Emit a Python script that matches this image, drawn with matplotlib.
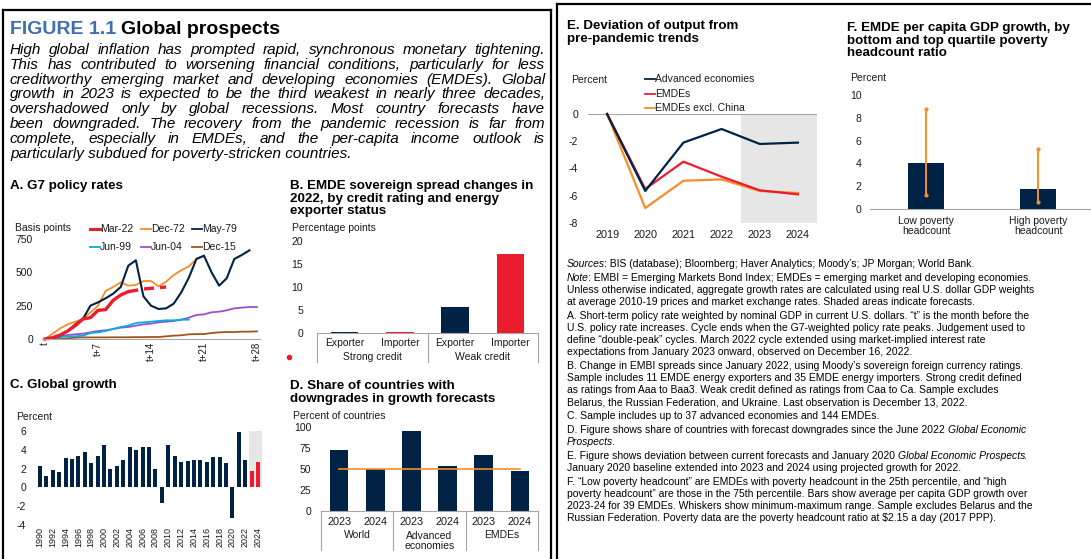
import matplotlib
matplotlib.use("Agg")
import matplotlib.pyplot as plt
from matplotlib.lines import Line2D
from matplotlib.transforms import ScaledTranslation

W, H = 1091, 559
plt.rcParams['font.family'] = ['Liberation Sans', 'DejaVu Sans']
plt.rcParams['axes.unicode_minus'] = False

NAVY = '#002345'
RED = '#EB1C2D'
ORANGE = '#F78D28'
CYAN = '#00ADE4'
PURPLE = '#9B4FCB'
BROWN = '#A0561B'
AXIS = '#A6A6A6'
SHADE = '#E6E6E6'
TXT = '#1a1a1a'
BLUE_HEAD = '#3F6FAF'

# ---------------- data ----------------
# A. G7 policy rates, basis points, by month since t
a_mar22 = [0, 10, 30, 60, 100, 150, 160, 215, 220, 290, 330, 355]
a_mar22_proj = [355, 365, 375, 380, 385, 390]          # months 11..16
a_dec72 = [0, 40, 80, 110, 130, 150, 200, 250, 360, 390, 425, 400, 405, 435,
           435, 395, 430, 480, 515, 545, 600, 625]
a_may79 = [0, 5, 25, 60, 110, 150, 250, 275, 305, 340, 390, 550, 590, 320,
           250, 225, 230, 265, 350, 460, 600, 625, 500, 400, 455, 600, 630, 665]
a_jun99 = [0, 5, 15, 20, 20, 25, 45, 50, 60, 75, 90, 100, 120, 125, 130, 135,
           140, 140, 145, 145]
a_jun04 = [0, 10, 20, 30, 35, 40, 50, 60, 65, 75, 85, 90, 100, 110, 115, 125,
           130, 135, 145, 160, 180, 185, 200, 205, 215, 230, 235, 240, 240]
a_dec15 = [0, 0, 0, 5, 10, 12, 12, 12, 12, 13, 13, 13, 14, 14, 15, 15, 20, 25,
           28, 35, 37, 37, 45, 50, 52, 52, 55, 55, 57]
a_ticks = [0, 7, 14, 21, 28]
a_ticklabels = ['t', 't+7', 't+14', 't+21', 't+28']

# B. EMDE sovereign spread changes, percentage points
b_types = ['Exporter', 'Importer', 'Exporter', 'Importer']
b_groups = ['Strong credit', 'Weak credit']
b_values = [0.3, 0.2, 5.6, 17.2]

# C. Global growth, percent
c_years = list(range(1990, 2025))
c_values = [2.3, 1.2, 1.85, 1.65, 3.15, 3.05, 3.35, 3.75, 2.55, 3.35, 4.5, 1.95,
            2.25, 2.95, 4.3, 4.0, 4.35, 4.35, 1.95, -1.7, 4.5, 3.35, 2.7, 2.8,
            2.95, 2.95, 2.7, 3.25, 3.25, 2.6, -3.3, 5.9, 2.9, 1.7, 2.7]
c_forecast = [2023, 2024]

# D. Share of countries with downgrades, percent of countries
d_years = ['2023', '2024', '2023', '2024', '2023', '2024']
d_groups = ['World', 'Advanced\neconomies', 'EMDEs']
d_values = [73, 50, 95, 54, 67, 48]
d_ref = 50

# E. Deviation of output from pre-pandemic trends, percent
e_years = [2019, 2020, 2021, 2022, 2023, 2024]
e_adv = [0, -5.65, -2.1, -1.1, -2.2, -2.1]
e_emde = [0, -5.5, -3.5, -4.6, -5.6, -5.9]
e_emde_xc = [0, -6.9, -4.9, -4.8, -5.65, -5.8]

# F. EMDE per capita GDP growth, percent
f_cats = ['Low poverty\nheadcount', 'High poverty\nheadcount']
f_mean = [4.0, 1.75]
f_min = [1.2, 0.6]
f_max = [8.8, 5.3]

header_title = ('FIGURE 1.1', 'Global prospects')
header_lines = [
    "High global inflation has prompted rapid, synchronous monetary tightening.",
    "This has contributed to worsening financial conditions, particularly for less",
    "creditworthy emerging market and developing economies (EMDEs). Global",
    "growth in 2023 is expected to be the third weakest in nearly three decades,",
    "overshadowed only by global recessions. Most country forecasts have",
    "been downgraded. The recovery from the pandemic recession is far from",
    "complete, especially in EMDEs, and the per-capita income outlook is",
    "particularly subdued for poverty-stricken countries.",
]

N, I = 'normal', 'italic'
notes = [
    [[("Sources", I), (": BIS (database); Bloomberg; Haver Analytics; Moody\u2019s; JP Morgan; World Bank.", N)]],
    [[("Note", I), (": EMBI = Emerging Markets Bond Index; EMDEs = emerging market and developing economies.", N)],
     [("Unless otherwise indicated, aggregate growth rates are calculated using real U.S. dollar GDP weights", N)],
     [("at average 2010-19 prices and market exchange rates. Shaded areas indicate forecasts.", N)]],
    [[("A. Short-term policy rate weighted by nominal GDP in current U.S. dollars. \u201ct\u201d is the month before the", N)],
     [("U.S. policy rate increases. Cycle ends when the G7-weighted policy rate peaks. Judgement used to", N)],
     [("define \u201cdouble-peak\u201d cycles. March 2022 cycle extended using market-implied interest rate", N)],
     [("expectations from January 2023 onward, observed on December 16, 2022.", N)]],
    [[("B. Change in EMBI spreads since January 2022, using Moody\u2019s sovereign foreign currency ratings.", N)],
     [("Sample includes 11 EMDE energy exporters and 35 EMDE energy importers. Strong credit defined", N)],
     [("as ratings from Aaa to Baa3. Weak credit defined as ratings from Caa to Ca. Sample excludes", N)],
     [("Belarus, the Russian Federation, and Ukraine. Last observation is December 13, 2022.", N)]],
    [[("C. Sample includes up to 37 advanced economies and 144 EMDEs.", N)]],
    [[("D. Figure shows share of countries with forecast downgrades since the June 2022 ", N), ("Global Economic", I)],
     [("Prospects", I), (".", N)]],
    [[("E. Figure shows deviation between current forecasts and January 2020 ", N), ("Global Economic Prospects", I), (".", N)],
     [("January 2020 baseline extended into 2023 and 2024 using projected growth for 2022.", N)]],
    [[("F. \u201cLow poverty headcount\u201d are EMDEs with poverty headcount in the 25th percentile, and \u201chigh", N)],
     [("poverty headcount\u201d are those in the 75th percentile. Bars show average per capita GDP growth over", N)],
     [("2023-24 for 39 EMDEs. Whiskers show minimum-maximum range. Sample excludes Belarus and the", N)],
     [("Russian Federation. Poverty data are the poverty headcount ratio at $2.15 a day (2017 PPP).", N)]],
]

# ---------------- helpers ----------------
fig = plt.figure(figsize=(W / 100, H / 100), dpi=100)
renderer = fig.canvas.get_renderer()
LFS = 7.5   # axis labels / ticks
TFS = 9.6   # panel titles
TLS = 1.08


def px_axes(x0, y0, x1, y1):
    ax = fig.add_axes([x0 / W, 1 - y1 / H, (x1 - x0) / W, (y1 - y0) / H])
    ax.patch.set_alpha(0)
    for s in ax.spines.values():
        s.set_visible(False)
    ax.tick_params(length=0, labelsize=LFS, colors=TXT)
    ax._hpx = y1 - y0
    return ax


def ftext(x, y, s, **kw):
    kw.setdefault('va', 'center')
    kw.setdefault('color', TXT)
    return fig.text(x / W, 1 - y / H, s, **kw)


def fline(x0, y0, x1, y1, **kw):
    fig.add_artist(Line2D([x0 / W, x1 / W], [1 - y0 / H, 1 - y1 / H],
                          transform=fig.transFigure, **kw))


def measure(s, **kw):
    t = fig.text(0, 0, s + '|', **kw)
    u = fig.text(0, 0, '|', **kw)
    w = t.get_window_extent(renderer).width - u.get_window_extent(renderer).width
    t.remove()
    u.remove()
    return w


def below(ax, x, dy, s, **kw):
    tr = ax.get_xaxis_transform() + ScaledTranslation(0, -dy / 100, fig.dpi_scale_trans)
    kw.setdefault('color', TXT)
    ax.text(x, 0, s, transform=tr, ha='center', va='center', **kw)


def sep(ax, x, dy):
    ax.plot([x, x], [0, -dy / ax._hpx], transform=ax.get_xaxis_transform(),
            clip_on=False, color=AXIS, lw=0.8)


def bottom_line(ax):
    ax.spines['bottom'].set_visible(True)
    ax.spines['bottom'].set_color(AXIS)
    ax.spines['bottom'].set_linewidth(0.8)


def legend_item(x, y, color, label, lw=1.3):
    fline(x, y, x + 10, y, color=color, lw=lw)
    ftext(x + 10, y, label, fontsize=LFS, ha='left')


def title(x, top, s):
    ftext(x, top, s, fontsize=TFS, fontweight='bold', ha='left', va='top',
          linespacing=TLS, color='black')


# ---------------- frames ----------------
fline(3, 10, 551, 10, color='black', lw=1.6)
fline(3, 10, 3, 559, color='black', lw=1.6)
fline(551, 10, 551, 559, color='black', lw=1.6)
fline(557, 4, 1091, 4, color='black', lw=1.6)
fline(557, 4, 557, 559, color='black', lw=1.6)

# ---------------- header ----------------
t1 = ftext(10, 30, header_title[0], fontsize=14, fontweight='bold', color=BLUE_HEAD, ha='left')
w1 = t1.get_window_extent(renderer).width
ftext(10 + w1 + 5, 30, header_title[1], fontsize=14, fontweight='bold', color='black', ha='left')

hx0, hx1 = 10, 545
hfs = 11
for i, line in enumerate(header_lines):
    y = 50 + i * 14.8
    if i == len(header_lines) - 1:
        ftext(hx0, y, line, fontsize=hfs, style='italic', ha='left', color='black')
        continue
    words = line.split()
    ws = [measure(w, fontsize=hfs, style='italic') for w in words]
    gap = (hx1 - hx0 - sum(ws)) / (len(words) - 1)
    x = hx0
    for w, wd in zip(words, ws):
        ftext(x, y, w, fontsize=hfs, style='italic', ha='left', color='black')
        x += wd + gap

# ---------------- A ----------------
title(10, 180, 'A. G7 policy rates')
ftext(15, 228, 'Basis points', fontsize=LFS, ha='left')
axA = px_axes(42, 239, 260, 339)
axA.set_xlim(-0.4, 28.4)
axA.set_ylim(0, 750)
bottom_line(axA)
axA.plot(range(len(a_dec15)), a_dec15, color=BROWN, lw=1.3, clip_on=False)
axA.plot(range(len(a_jun04)), a_jun04, color=PURPLE, lw=1.3, clip_on=False)
axA.plot(range(len(a_jun99)), a_jun99, color=CYAN, lw=1.3, clip_on=False)
axA.plot(range(len(a_dec72)), a_dec72, color=ORANGE, lw=1.3, clip_on=False)
axA.plot(range(len(a_may79)), a_may79, color=NAVY, lw=1.5, clip_on=False)
axA.plot(range(len(a_mar22)), a_mar22, color=RED, lw=2.4, clip_on=False)
axA.plot(range(len(a_mar22) - 1, len(a_mar22) - 1 + len(a_mar22_proj)), a_mar22_proj,
         color=RED, lw=2.4, ls=(0, (3, 1.8)), clip_on=False)
axA.set_yticks([0, 250, 500, 750])
axA.set_xticks(a_ticks)
axA.set_xticklabels(a_ticklabels, rotation=90, fontsize=7)
axA.tick_params(axis='y', pad=6.5)
axA.tick_params(axis='x', pad=2)
legend_item(90, 229, RED, 'Mar-22', lw=2.2)
legend_item(141, 229, ORANGE, 'Dec-72')
legend_item(192, 229, NAVY, 'May-79')
legend_item(90, 247, CYAN, 'Jun-99')
legend_item(141, 247, PURPLE, 'Jun-04')
legend_item(192, 247, BROWN, 'Dec-15')

# ---------------- B ----------------
title(290, 180, 'B. EMDE sovereign spread changes in\n2022, by credit rating and energy\nexporter status')
ftext(292, 228, 'Percentage points', fontsize=LFS, ha='left')
axB = px_axes(317, 241, 538, 333)
axB.set_xlim(-0.5, 3.5)
axB.set_ylim(0, 20)
bottom_line(axB)
axB.bar(range(len(b_values)), b_values, width=0.5, color=[NAVY, RED, NAVY, RED])
axB.set_yticks([0, 5, 10, 15, 20])
axB.set_xticks([])
axB.tick_params(axis='y', pad=10)
for i, s in enumerate(b_types):
    below(axB, i, 10, s, fontsize=LFS)
for g, s in enumerate(b_groups):
    below(axB, 2 * g + 0.5, 24, s, fontsize=LFS)
for x in [-0.5, 1.5, 3.5]:
    sep(axB, x, 29)
fig.add_artist(Line2D([289 / W], [1 - 357 / H], marker='o', ms=3, color=RED,
                      transform=fig.transFigure))

# ---------------- C ----------------
title(10, 379, 'C. Global growth')
ftext(16, 417, 'Percent', fontsize=LFS, ha='left')
axC = px_axes(36, 431, 262, 525)
axC.set_xlim(1989.4, 2024.6)
axC.set_ylim(-4, 6)
axC.fill_between([2022.5, 2024.6], 0, 6, color=SHADE, lw=0)
axC.bar(c_years, c_values, width=0.62,
        color=[RED if y in c_forecast else NAVY for y in c_years])
axC.set_yticks([-4, -2, 0, 2, 4, 6])
axC.set_xticks(c_years[::2])
axC.set_xticklabels([str(y) for y in c_years[::2]], rotation=90, fontsize=6.5)
axC.tick_params(axis='y', pad=7)
axC.tick_params(axis='x', pad=1.5)

# ---------------- D ----------------
title(290, 380, 'D. Share of countries with\ndowngrades in growth forecasts')
ftext(293, 416, 'Percent of countries', fontsize=LFS, ha='left')
axD = px_axes(321, 427, 538, 511)
axD.set_xlim(-0.5, 5.5)
axD.set_ylim(0, 100)
bottom_line(axD)
axD.bar(range(len(d_values)), d_values, width=0.52, color=NAVY)
axD.plot([0, len(d_values) - 1], [d_ref, d_ref], color=ORANGE, lw=1.2)
axD.set_yticks([0, 25, 50, 75, 100])
axD.set_xticks(range(len(d_years)))
axD.set_xticklabels(d_years, fontsize=7.8)
axD.tick_params(axis='y', pad=7)
axD.tick_params(axis='x', pad=4.5)
for g, s in enumerate(d_groups):
    below(axD, 2 * g + 0.5, 30 if '\n' in s else 24, s, fontsize=LFS, linespacing=1.1)
for x in [-0.5, 1.5, 3.5, 5.5]:
    sep(axD, x, 39)

# ---------------- E ----------------
title(567, 20, 'E. Deviation of output from\npre-pandemic trends')
ftext(571, 80, 'Percent', fontsize=LFS, ha='left')
axE = px_axes(588, 114, 817, 223)
axE.set_xlim(2018.5, 2024.5)
axE.set_ylim(-8, 0)
axE.axvspan(2022.5, 2024.5, color=SHADE, lw=0)
axE.axhline(0, color=AXIS, lw=0.8)
axE.plot(e_years, e_emde_xc, color=ORANGE, lw=1.6, clip_on=False)
axE.plot(e_years, e_emde, color=RED, lw=1.6, clip_on=False)
axE.plot(e_years, e_adv, color=NAVY, lw=1.6, clip_on=False)
axE.set_yticks([-8, -6, -4, -2, 0])
axE.set_xticks(e_years)
axE.tick_params(axis='x', labelsize=7.8, pad=5)
axE.tick_params(axis='y', pad=7)
legend_item(645, 79, NAVY, 'Advanced economies')
legend_item(645, 94, RED, 'EMDEs')
legend_item(645, 108, ORANGE, 'EMDEs excl. China')

# ---------------- F ----------------
title(847, 22, 'F. EMDE per capita GDP growth, by\nbottom and top quartile poverty\nheadcount ratio')
ftext(850, 78, 'Percent', fontsize=LFS, ha='left')
axF = px_axes(870, 95, 1094, 209)
axF.set_xlim(-0.5, 1.5)
axF.set_ylim(0, 10)
bottom_line(axF)
axF.bar(range(len(f_mean)), f_mean, width=0.32, color=NAVY)
axF.vlines(range(len(f_mean)), f_min, f_max, color=ORANGE, lw=1.4)
axF.plot(range(len(f_mean)), f_min, 'o', color=ORANGE, ms=2)
axF.plot(range(len(f_mean)), f_max, 'o', color=ORANGE, ms=2)
axF.set_yticks([0, 2, 4, 6, 8, 10])
axF.set_xticks(range(len(f_cats)))
axF.set_xticklabels(f_cats, linespacing=0.95)
axF.tick_params(axis='y', pad=6)
axF.tick_params(axis='x', pad=5)

# ---------------- notes ----------------
NFS = 7.5
y = 264
for para in notes:
    for line in para:
        x = 567
        for s, st in line:
            ftext(x, y, s, fontsize=NFS, style=st, ha='left', color='black')
            x += measure(s, fontsize=NFS, style=st) - (0.8 if st == I else 0)
        y += 12.2
    y += 1.5

fig.savefig('out.png', dpi=100)
